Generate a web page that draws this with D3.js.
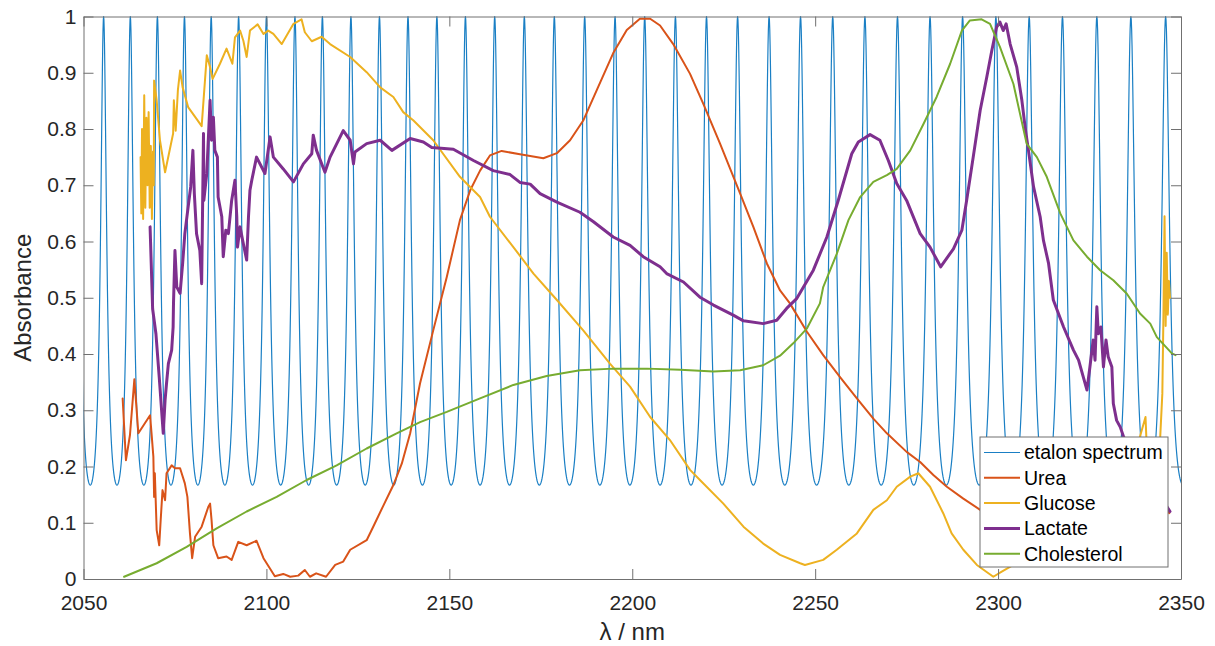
<!DOCTYPE html>
<html>
<head>
<meta charset="utf-8">
<script src="https://cdn.jsdelivr.net/npm/d3@7/dist/d3.min.js"></script>
<style>
  html, body { margin: 0; padding: 0; background: #ffffff; }
  svg { display: block; font-family: "Liberation Sans", Arial, Helvetica, sans-serif; }
</style>
</head>
<body>
<svg id="chart" width="1215" height="646"></svg>
<script>
// ---- data -------------------------------------------------------------

// Transmission maxima of the etalon (nm); first and last entries are the
// neighbouring fringes just outside the plotted window.
const etalonPeaks = [2048.2, 2055.5, 2062.8, 2070.2, 2077.6, 2084.9, 2092.4, 2100.0, 2107.8,
  2115.3, 2123.1, 2130.9, 2138.7, 2146.6, 2154.4, 2162.4, 2170.5, 2178.7, 2187.0,
  2195.3, 2203.4, 2211.8, 2220.3, 2228.8, 2237.4, 2246.0, 2254.8, 2263.6, 2272.5,
  2281.4, 2290.3, 2299.4, 2308.5, 2317.6, 2327.0, 2336.3, 2345.8, 2355.4];
// Normalised transmission between fringes
const etalonFloor = 0.167;

// Normalised absorbance spectra, [wavelength nm, absorbance]
const urea = [
  [2060.7,0.321],[2061.6,0.211],[2062.7,0.256],[2063.9,0.355],[2065.0,0.259],[2068.2,0.291],
  [2068.6,0.259],[2069.1,0.217],[2069.3,0.146],[2069.5,0.188],[2070.0,0.087],[2070.7,0.060],
  [2071.1,0.105],[2071.6,0.158],[2072.3,0.140],[2072.7,0.188],[2074.1,0.202],[2075.0,0.197],
  [2076.4,0.197],[2077.7,0.170],[2078.4,0.146],[2079.1,0.081],[2079.7,0.037],[2080.5,0.075],
  [2082.3,0.093],[2084.1,0.128],[2084.6,0.134],[2085.0,0.105],[2085.5,0.060],[2086.8,0.037],
  [2089.1,0.040],[2090.5,0.034],[2092.3,0.066],[2094.6,0.060],[2097.3,0.068],[2099.2,0.037],
  [2102.3,0.005],[2104.6,0.009],[2106.5,0.004],[2108.7,0.006],[2110.5,0.016],[2111.9,0.004],
  [2113.6,0.010],[2116.3,0.004],[2118.8,0.025],[2121.0,0.031],[2122.9,0.052],[2127.4,0.069],
  [2129.2,0.093],[2132.0,0.131],[2134.7,0.167],[2137.0,0.205],[2139.3,0.259],[2142.0,0.348],
  [2145.6,0.442],[2149.3,0.537],[2152.9,0.638],[2155.7,0.691],[2158.4,0.726],[2161.1,0.753],
  [2164.3,0.761],[2169.3,0.755],[2175.7,0.748],[2179.4,0.757],[2183.0,0.780],[2186.6,0.815],
  [2190.3,0.869],[2194.8,0.935],[2198.5,0.976],[2202.1,0.996],[2204.9,0.996],[2207.6,0.984],
  [2211.2,0.951],[2215.8,0.898],[2219.4,0.845],[2224.0,0.774],[2229.5,0.685],[2233.1,0.626],
  [2236.8,0.561],[2240.4,0.513],[2243.1,0.490],[2247.7,0.440],[2252.2,0.398],[2256.8,0.359],
  [2261.4,0.321],[2265.9,0.285],[2269.6,0.259],[2275.0,0.226],[2278.7,0.208],[2282.3,0.185],
  [2286.0,0.164],[2290.5,0.143],[2295.1,0.123],[2300.0,0.115],[2310.0,0.110],[2320.0,0.115],
  [2330.0,0.128],[2340.0,0.140],[2344.5,0.150],[2345.5,0.158],[2346.2,0.125],[2346.8,0.117]
];

const glucose = [
  [2065.6,0.750],[2065.8,0.650],[2066.0,0.800],[2066.3,0.640],[2066.6,0.860],[2066.9,0.660],
  [2067.2,0.820],[2067.5,0.700],[2067.8,0.830],[2068.1,0.660],[2068.4,0.770],[2068.7,0.640],
  [2069.0,0.760],[2069.2,0.700],[2069.3,0.886],[2070.0,0.851],[2070.9,0.780],[2072.3,0.723],
  [2074.5,0.792],[2074.7,0.851],[2075.2,0.797],[2075.8,0.869],[2076.4,0.904],[2077.1,0.874],
  [2078.6,0.839],[2080.9,0.818],[2082.3,0.805],[2083.7,0.931],[2084.6,0.910],[2085.3,0.889],
  [2087.3,0.916],[2089.1,0.943],[2090.7,0.916],[2091.4,0.963],[2092.8,0.975],[2093.7,0.957],
  [2094.6,0.928],[2095.5,0.975],[2097.6,0.986],[2099.2,0.969],[2100.5,0.975],[2101.9,0.969],
  [2104.2,0.951],[2107.4,0.987],[2109.6,0.995],[2110.5,0.972],[2112.4,0.956],[2115.1,0.964],
  [2117.4,0.951],[2122.9,0.928],[2127.4,0.901],[2131.1,0.874],[2134.7,0.857],[2137.4,0.830],
  [2140.2,0.815],[2145.6,0.780],[2152.9,0.715],[2158.4,0.679],[2161.1,0.644],[2167.5,0.590],
  [2173.0,0.543],[2179.4,0.496],[2186.6,0.442],[2193.9,0.383],[2199.4,0.342],[2204.9,0.288],
  [2210.3,0.247],[2215.8,0.194],[2218.5,0.176],[2224.9,0.134],[2230.4,0.093],[2235.8,0.063],
  [2240.4,0.043],[2245.9,0.028],[2247.2,0.025],[2252.2,0.034],[2255.9,0.052],[2261.4,0.081],
  [2265.9,0.123],[2269.6,0.140],[2272.3,0.164],[2276.0,0.182],[2278.2,0.188],[2281.4,0.164],
  [2285.0,0.117],[2287.3,0.081],[2290.5,0.052],[2294.2,0.025],[2298.7,0.004],[2301.0,0.013],
  [2304.2,0.025],[2310.0,0.060],[2320.0,0.120],[2330.0,0.185],[2338.0,0.235],[2340.3,0.288],
  [2340.6,0.240],[2342.5,0.220],[2344.3,0.250],[2344.9,0.330],[2345.2,0.470],[2345.5,0.645],
  [2345.8,0.450],[2346.1,0.580],[2346.4,0.470],[2346.7,0.530],[2347.0,0.500]
];

const lactate = [
  [2068.2,0.626],[2068.9,0.480],[2069.8,0.436],[2070.7,0.359],[2071.8,0.259],[2072.3,0.318],
  [2072.7,0.348],[2073.2,0.383],[2074.1,0.407],[2074.5,0.448],[2074.6,0.490],[2075.0,0.584],
  [2075.5,0.519],[2076.4,0.508],[2077.1,0.561],[2077.7,0.614],[2078.6,0.661],[2079.3,0.697],
  [2079.9,0.762],[2080.3,0.685],[2080.9,0.614],[2081.8,0.584],[2082.3,0.525],[2082.8,0.792],
  [2082.9,0.673],[2083.7,0.721],[2084.6,0.851],[2085.0,0.780],[2085.5,0.821],[2085.9,0.762],
  [2086.6,0.750],[2086.8,0.679],[2087.8,0.644],[2088.2,0.573],[2088.9,0.620],[2089.6,0.614],
  [2090.5,0.673],[2091.4,0.709],[2091.9,0.644],[2092.1,0.590],[2092.8,0.626],[2093.5,0.602],
  [2094.6,0.567],[2095.1,0.644],[2095.5,0.691],[2096.0,0.709],[2097.3,0.750],[2099.6,0.721],
  [2101.0,0.786],[2101.9,0.750],[2104.6,0.729],[2107.4,0.706],[2110.1,0.738],[2112.4,0.756],
  [2112.8,0.789],[2113.7,0.762],[2116.0,0.723],[2117.4,0.750],[2121.0,0.797],[2122.9,0.780],
  [2123.8,0.738],[2124.2,0.759],[2127.4,0.774],[2131.1,0.780],[2134.3,0.762],[2139.3,0.783],
  [2142.9,0.777],[2145.2,0.767],[2151.1,0.764],[2156.6,0.744],[2162.0,0.726],[2166.6,0.719],
  [2169.3,0.705],[2172.1,0.702],[2174.8,0.685],[2179.4,0.670],[2185.7,0.652],[2189.4,0.635],
  [2194.8,0.608],[2199.4,0.593],[2203.0,0.573],[2207.6,0.555],[2209.4,0.543],[2214.0,0.528],
  [2218.5,0.501],[2222.2,0.487],[2227.6,0.469],[2230.4,0.459],[2235.8,0.454],[2239.5,0.460],
  [2242.2,0.481],[2245.0,0.499],[2249.5,0.549],[2253.2,0.608],[2256.3,0.673],[2260.0,0.756],
  [2261.8,0.777],[2265.0,0.790],[2267.7,0.780],[2270.0,0.744],[2272.3,0.703],[2275.0,0.673],
  [2278.7,0.614],[2281.4,0.590],[2284.3,0.555],[2287.8,0.587],[2290.1,0.620],[2291.4,0.673],
  [2293.2,0.750],[2295.1,0.833],[2296.9,0.892],[2298.3,0.940],[2299.6,0.981],[2300.5,0.990],
  [2301.4,0.975],[2302.2,0.987],[2303.3,0.951],[2305.1,0.910],[2306.5,0.851],[2307.4,0.803],
  [2308.3,0.762],[2309.7,0.697],[2311.5,0.644],[2312.4,0.602],[2313.8,0.561],[2315.1,0.496],
  [2317.9,0.448],[2320.6,0.407],[2322.0,0.389],[2323.3,0.359],[2324.3,0.336],[2325.1,0.377],
  [2326.0,0.425],[2326.5,0.389],[2327.0,0.484],[2327.4,0.436],[2328.1,0.448],[2328.8,0.377],
  [2329.5,0.425],[2330.1,0.395],[2331.1,0.377],[2331.5,0.312],[2332.4,0.282],[2333.4,0.270],
  [2334.3,0.253],[2337.0,0.220],[2340.0,0.190],[2343.0,0.160],[2346.0,0.130],[2347.0,0.120]
];

const cholesterol = [
  [2061.1,0.004],[2070.0,0.028],[2078.2,0.057],[2086.4,0.090],[2094.6,0.120],[2102.8,0.146],
  [2111.0,0.176],[2119.2,0.202],[2127.4,0.232],[2135.6,0.259],[2142.0,0.279],[2149.3,0.297],
  [2158.4,0.321],[2167.5,0.345],[2176.6,0.361],[2185.7,0.371],[2194.8,0.374],[2204.0,0.374],
  [2213.1,0.372],[2222.2,0.369],[2229.5,0.371],[2235.8,0.380],[2240.4,0.397],[2244.0,0.419],
  [2247.7,0.445],[2251.3,0.490],[2252.2,0.519],[2255.9,0.578],[2259.1,0.638],[2262.3,0.679],
  [2265.9,0.706],[2269.6,0.718],[2272.3,0.729],[2276.0,0.762],[2279.6,0.809],[2283.2,0.857],
  [2286.9,0.916],[2290.1,0.975],[2292.3,0.993],[2295.5,0.995],[2297.8,0.987],[2300.5,0.946],
  [2304.2,0.880],[2307.8,0.774],[2310.6,0.750],[2313.3,0.715],[2317.0,0.650],[2320.6,0.602],
  [2324.3,0.573],[2327.9,0.549],[2331.5,0.531],[2335.2,0.507],[2338.8,0.472],[2341.6,0.454],
  [2343.4,0.430],[2347.5,0.401],[2348.5,0.398]
];

const seriesNames = ["etalon spectrum", "Urea", "Glucose", "Lactate", "Cholesterol"];
const xTickValues = [2050, 2100, 2150, 2200, 2250, 2300, 2350];
const yTickValues = [0, 0.1, 0.2, 0.3, 0.4, 0.5, 0.6, 0.7, 0.8, 0.9, 1];
const xLabel = "λ / nm";
const yLabel = "Absorbance";

// ---- styling ----------------------------------------------------------
const lineStyles = [
  { color: "#1a7fc4", width: 1.2 },
  { color: "#D95319", width: 2 },
  { color: "#EDB120", width: 2 },
  { color: "#7E2F8E", width: 3 },
  { color: "#77AC30", width: 2 }
];
const axisColor = "#707070";
const textColor = "#262626";

// ---- layout -----------------------------------------------------------
const svg = d3.select("#chart");
const plot = { left: 83.5, right: 1181, top: 16.5, bottom: 579 };

const x = d3.scaleLinear().domain([2050, 2350]).range([plot.left, plot.right]);
const y = d3.scaleLinear().domain([0, 1]).range([plot.bottom, plot.top]);

svg.append("rect").attr("width", 1215).attr("height", 646).attr("fill", "#ffffff");

svg.append("defs").append("clipPath").attr("id", "plot-clip")
  .append("rect")
  .attr("x", plot.left).attr("y", plot.top - 2)
  .attr("width", plot.right - plot.left).attr("height", plot.bottom - plot.top + 2);

// Airy transmission profile between successive fringe maxima
const finesseCoef = 1 / etalonFloor - 1;
const etalon = [];
for (let i = 0; i < etalonPeaks.length - 1; i++) {
  const a = etalonPeaks[i], b = etalonPeaks[i + 1];
  const n = 90;
  for (let k = 0; k < n; k++) {
    const s = Math.sin(Math.PI * k / n);
    etalon.push([a + (b - a) * k / n, 1 / (1 + finesseCoef * s * s)]);
  }
}
etalon.push([etalonPeaks[etalonPeaks.length - 1], 1]);

const allSeries = [etalon, urea, glucose, lactate, cholesterol];

const line = d3.line()
  .x(d => x(d[0]))
  .y(d => y(d[1]));

const lines = svg.append("g").attr("clip-path", "url(#plot-clip)");
allSeries.forEach((data, i) => {
  lines.append("path")
    .datum(data)
    .attr("d", line)
    .attr("fill", "none")
    .attr("stroke", lineStyles[i].color)
    .attr("stroke-width", lineStyles[i].width)
    .attr("stroke-linejoin", "round")
    .attr("stroke-linecap", "round");
});

// ---- axes (box with inward ticks on all four sides) -------------------
const fmtY = d => d3.format("~g")(d);
const tickLen = 10;

const bottomAxis = d3.axisBottom(x).tickValues(xTickValues).tickSize(-tickLen).tickSizeOuter(0).tickPadding(16).tickFormat(d3.format("d"));
const topAxis = d3.axisTop(x).tickValues(xTickValues).tickSize(-tickLen).tickSizeOuter(0).tickFormat("");
const leftAxis = d3.axisLeft(y).tickValues(yTickValues).tickSize(-tickLen).tickSizeOuter(0).tickPadding(7).tickFormat(fmtY);
const rightAxis = d3.axisRight(y).tickValues(yTickValues).tickSize(-tickLen).tickSizeOuter(0).tickFormat("");

function styleAxis(g) {
  g.selectAll(".domain").attr("stroke", axisColor).attr("stroke-width", 1);
  g.selectAll(".tick line").attr("stroke", axisColor).attr("stroke-width", 1);
  g.selectAll(".tick text").attr("fill", textColor).style("font-size", "21px")
    .style("font-family", "\"Liberation Sans\", Arial, Helvetica, sans-serif");
}

svg.append("g").attr("transform", `translate(0,${plot.bottom})`).call(bottomAxis).call(styleAxis);
svg.append("g").attr("transform", `translate(0,${plot.top})`).call(topAxis).call(styleAxis);
svg.append("g").attr("transform", `translate(${plot.left},0)`).call(leftAxis).call(styleAxis);
svg.append("g").attr("transform", `translate(${plot.right},0)`).call(rightAxis).call(styleAxis);

// Axis titles
svg.append("text")
  .attr("x", (plot.left + plot.right) / 2)
  .attr("y", 640)
  .attr("text-anchor", "middle")
  .attr("fill", textColor)
  .style("font-size", "24px")
  .text(xLabel);

svg.append("text")
  .attr("transform", `translate(31,${(plot.top + plot.bottom) / 2}) rotate(-90)`)
  .attr("text-anchor", "middle")
  .attr("fill", textColor)
  .style("font-size", "24px")
  .text(yLabel);

// ---- legend -----------------------------------------------------------
const legend = svg.append("g").attr("transform", "translate(980,437)");
legend.append("rect")
  .attr("width", 188).attr("height", 130)
  .attr("fill", "#ffffff")
  .attr("stroke", axisColor).attr("stroke-width", 1);

seriesNames.forEach((name, i) => {
  const cy = 15.5 + i * 25.3;
  legend.append("line")
    .attr("x1", 4).attr("x2", 40)
    .attr("y1", cy).attr("y2", cy)
    .attr("stroke", lineStyles[i].color)
    .attr("stroke-width", lineStyles[i].width);
  legend.append("text")
    .attr("x", 44).attr("y", cy)
    .attr("dy", "0.35em")
    .attr("fill", "#000000")
    .style("font-size", "19.5px")
    .text(name);
});
</script>
</body>
</html>
